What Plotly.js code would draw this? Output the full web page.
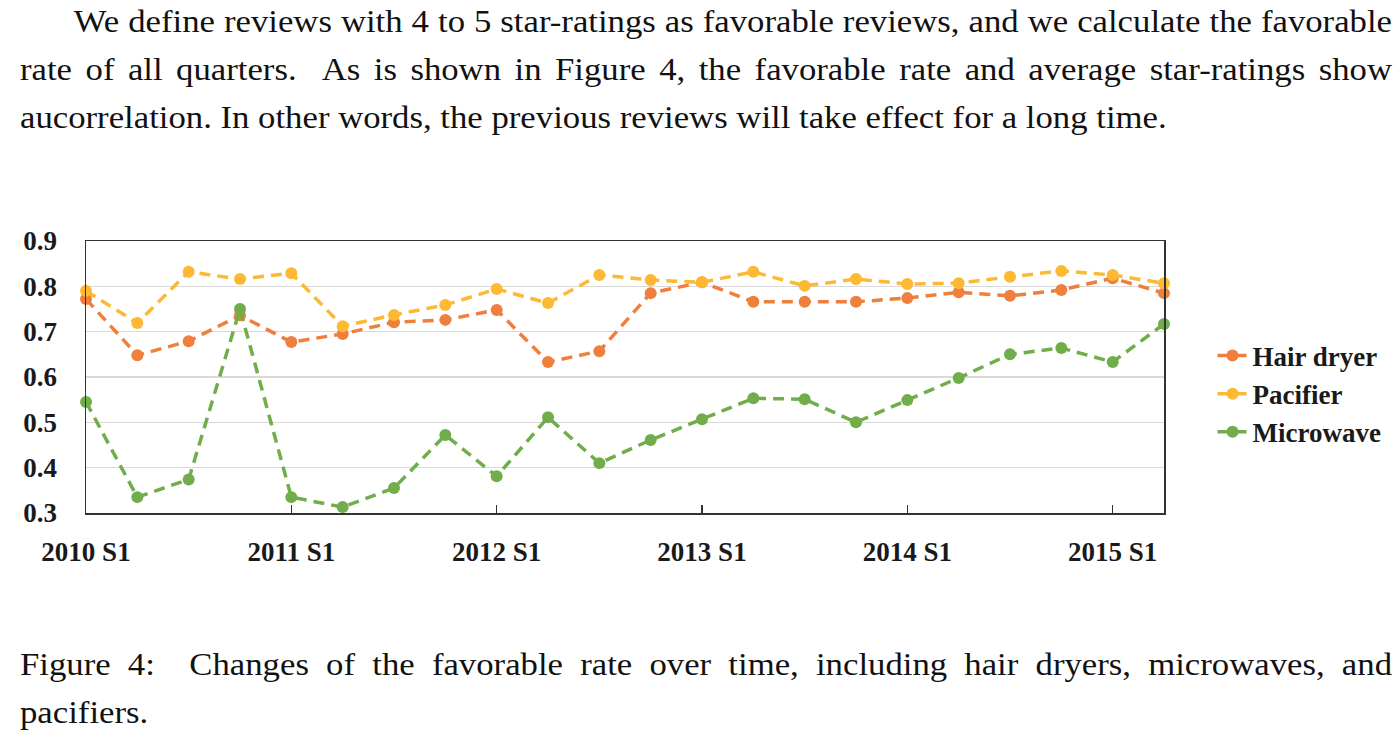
<!DOCTYPE html>
<html>
<head>
<meta charset="utf-8">
<script src="https://cdn.plot.ly/plotly-3.0.1.min.js"></script>
<style>
html,body{margin:0;padding:0;background:#fff;width:1398px;height:746px;overflow:hidden;}
#chart{position:absolute;left:0;top:0;width:1398px;height:746px;}
.ln{position:absolute;left:20px;width:1225px;font-family:"Liberation Serif","Times New Roman",serif;font-size:31px;line-height:48px;height:48px;color:#111;white-space:nowrap;transform:scaleX(1.12);transform-origin:0 0;}
.j{text-align:justify;text-align-last:justify;white-space:normal;}
</style>
</head>
<body>
<div id="chart"></div>
<div class="ln j" style="top:-2px;"><span style="display:inline-block;width:48px"></span>We define reviews with 4 to 5 star-ratings as favorable reviews, and we calculate the favorable</div>
<div class="ln j" style="top:46px;">rate of all quarters.&nbsp; As is shown in Figure 4, the favorable rate and average star-ratings show</div>
<div class="ln" style="top:94px;">aucorrelation.&nbsp;In other words, the previous reviews will take effect for a long time.</div>
<div class="ln j" style="top:641px;">Figure 4:&nbsp; Changes of the favorable rate over time, including hair dryers, microwaves, and</div>
<div class="ln" style="top:689px;">pacifiers.</div>
<script>
// quarter index 0 = 2010 S1, step one quarter
const quarters = [0,1,2,3,4,5,6,7,8,9,10,11,12,13,14,15,16,17,18,19,20,21];
const tickPositions = [0,4,8,12,16,20];
const tickLabels = ["2010 S1","2011 S1","2012 S1","2013 S1","2014 S1","2015 S1"];
const hairDryer = [0.772,0.648,0.679,0.736,0.677,0.695,0.721,0.726,0.748,0.633,0.657,0.785,0.809,0.766,0.766,0.766,0.774,0.787,0.779,0.792,0.818,0.785];
const pacifier  = [0.790,0.719,0.832,0.816,0.829,0.712,0.737,0.759,0.794,0.763,0.825,0.814,0.809,0.832,0.801,0.816,0.805,0.807,0.821,0.834,0.825,0.807];
const microwave = [0.545,0.335,0.374,0.750,0.335,0.313,0.355,0.472,0.381,0.511,0.410,0.461,0.507,0.553,0.551,0.500,0.549,0.598,0.650,0.664,0.633,0.717];

function tr(name, y, color){
  return {x:quarters, y:y, name:name, type:'scatter', mode:'lines+markers',
    line:{color:color, width:3.5, dash:'11px,7px'}, marker:{color:color, size:12},
    cliponaxis:false};
}
const data = [tr('Hair dryer', hairDryer, '#EF7F3D'), tr('Pacifier', pacifier, '#FDB933'), tr('Microwave', microwave, '#72AD4C')];
const fam = '"Liberation Serif","Times New Roman",serif';
const fontT = {family:fam, size:27, color:'#1a1a1a', weight:'bold'};
const fontL = {family:fam, size:27, color:'#1a1a1a', weight:'bold'};
const layout = {
  width:1398, height:746,
  margin:{l:86, r:232, t:241, b:233, pad:0},
  paper_bgcolor:'rgba(0,0,0,0)', plot_bgcolor:'#fff',
  showlegend:true,
  legend:{x:1.045, y:0.4375, xanchor:'left', yanchor:'middle', font:fontL, tracegroupgap:0, itemwidth:30, bgcolor:'rgba(0,0,0,0)'},
  xaxis:{range:[0,21], tickvals:tickPositions, ticktext:tickLabels, ticks:'inside', ticklen:8, tickcolor:'#333', tickwidth:1.5,
    showline:true, linecolor:'#333', linewidth:1.5, mirror:true, showgrid:false, zeroline:false, tickfont:fontT, ticklabelstandoff:14},
  yaxis:{range:[0.3,0.9], dtick:0.1, tickformat:'.1f', ticks:'', showline:true, linecolor:'#333', linewidth:1.5, mirror:true,
    showgrid:true, gridcolor:'#d9d9d9', gridwidth:1.5, zeroline:false, tickfont:fontT, ticklabelstandoff:22},
};
Plotly.newPlot('chart', data, layout, {staticPlot:true});
</script>
</body>
</html>
